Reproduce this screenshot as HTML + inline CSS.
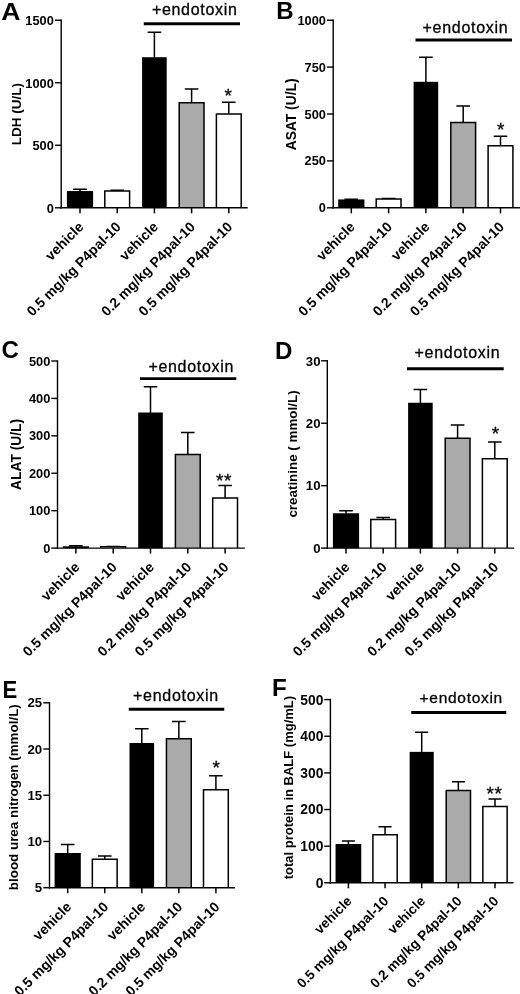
<!DOCTYPE html><html><head><meta charset="utf-8"><title>Figure</title><style>html,body{margin:0;padding:0;background:#fff}svg{display:block;will-change:transform}text{font-family:"Liberation Sans", sans-serif;fill:#000}.b{font-weight:bold}</style></head><body>
<svg width="520" height="994" viewBox="0 0 520 994">
<rect width="520" height="994" fill="#fff"/>
<g>
<text class="b" transform="translate(1.20 19.70) scale(1.080 1)" font-size="24.6">A</text>
<path d="M80.00 191.54V189.29M73.20 189.29H86.80" stroke="#000" stroke-width="1.5" fill="none"/>
<rect x="66.90" y="191.04" width="26.20" height="16.76" fill="#000"/>
<path d="M80.00 207.80V213.30" stroke="#000" stroke-width="1.5"/>
<text class="b" font-size="14.00" text-anchor="end" transform="translate(84.50 227.80) rotate(-45)">vehicle</text>
<path d="M117.20 190.92V190.29M110.40 190.29H124.00" stroke="#000" stroke-width="1.5" fill="none"/>
<path d="M104.80 207.80V190.92H129.60V207.80" fill="#fff" stroke="#000" stroke-width="1.5"/>
<path d="M117.20 207.80V213.30" stroke="#000" stroke-width="1.5"/>
<text class="b" font-size="14.00" text-anchor="end" transform="translate(121.70 227.80) rotate(-45)">0.5 mg/kg P4pal-10</text>
<path d="M154.40 57.72V32.21M147.60 32.21H161.20" stroke="#000" stroke-width="1.5" fill="none"/>
<rect x="142.10" y="57.22" width="24.60" height="150.58" fill="#000"/>
<path d="M154.40 207.80V213.30" stroke="#000" stroke-width="1.5"/>
<text class="b" font-size="14.00" text-anchor="end" transform="translate(158.90 227.80) rotate(-45)">vehicle</text>
<path d="M191.60 102.74V88.99M184.80 88.99H198.40" stroke="#000" stroke-width="1.5" fill="none"/>
<path d="M179.20 207.80V102.74H204.00V207.80" fill="#aaaaaa" stroke="#000" stroke-width="1.5"/>
<path d="M191.60 207.80V213.30" stroke="#000" stroke-width="1.5"/>
<text class="b" font-size="14.00" text-anchor="end" transform="translate(196.10 227.80) rotate(-45)">0.2 mg/kg P4pal-10</text>
<path d="M228.80 114.00V102.24M222.00 102.24H235.60" stroke="#000" stroke-width="1.5" fill="none"/>
<path d="M216.40 207.80V114.00H241.20V207.80" fill="#fff" stroke="#000" stroke-width="1.5"/>
<path d="M228.80 207.80V213.30" stroke="#000" stroke-width="1.5"/>
<text class="b" font-size="14.00" text-anchor="end" transform="translate(233.30 227.80) rotate(-45)">0.5 mg/kg P4pal-10</text>
<path d="M61.20 19.40V208.60" stroke="#000" stroke-width="1.4"/>
<path d="M60.40 207.80H247.70" stroke="#000" stroke-width="1.4"/>
<path d="M55.00 20.20H61.20" stroke="#000" stroke-width="1.4"/>
<text class="b" font-size="12.8" text-anchor="end" x="53.80" y="25.00">1500</text>
<path d="M55.00 82.73H61.20" stroke="#000" stroke-width="1.4"/>
<text class="b" font-size="12.8" text-anchor="end" x="53.80" y="87.53">1000</text>
<path d="M55.00 145.27H61.20" stroke="#000" stroke-width="1.4"/>
<text class="b" font-size="12.8" text-anchor="end" x="53.80" y="150.07">500</text>
<path d="M55.00 207.80H61.20" stroke="#000" stroke-width="1.4"/>
<text class="b" font-size="12.8" text-anchor="end" x="53.80" y="212.60">0</text>
<text class="b" font-size="13.5" text-anchor="middle" transform="translate(20.60 114.10) rotate(-90)">LDH (U/L)</text>
<text font-size="16.00" letter-spacing="0.7" stroke="#000" stroke-width="0.3" text-anchor="middle" x="194.75" y="14.50">+endotoxin</text>
<path d="M143.75 23.75H240.00" stroke="#000" stroke-width="2.8"/>
<text font-size="19" letter-spacing="0.6" stroke="#000" stroke-width="0.3" text-anchor="middle" x="228.55" y="101.70">*</text>
</g>
<g>
<text class="b" transform="translate(276.30 19.00) scale(0.980 1)" font-size="24.6">B</text>
<path d="M351.30 199.92V199.36M344.50 199.36H358.10" stroke="#000" stroke-width="1.5" fill="none"/>
<rect x="338.20" y="199.42" width="26.20" height="8.38" fill="#000"/>
<path d="M351.30 207.80V213.30" stroke="#000" stroke-width="1.5"/>
<text class="b" font-size="14.00" text-anchor="end" transform="translate(355.80 227.80) rotate(-45)">vehicle</text>
<path d="M388.60 198.98V198.61M381.80 198.61H395.40" stroke="#000" stroke-width="1.5" fill="none"/>
<path d="M376.20 207.80V198.98H401.00V207.80" fill="#fff" stroke="#000" stroke-width="1.5"/>
<path d="M388.60 207.80V213.30" stroke="#000" stroke-width="1.5"/>
<text class="b" font-size="14.00" text-anchor="end" transform="translate(393.10 227.80) rotate(-45)">0.5 mg/kg P4pal-10</text>
<path d="M425.90 82.30V57.16M419.10 57.16H432.70" stroke="#000" stroke-width="1.5" fill="none"/>
<rect x="413.60" y="81.80" width="24.60" height="126.00" fill="#000"/>
<path d="M425.90 207.80V213.30" stroke="#000" stroke-width="1.5"/>
<text class="b" font-size="14.00" text-anchor="end" transform="translate(430.40 227.80) rotate(-45)">vehicle</text>
<path d="M463.20 122.44V105.93M456.40 105.93H470.00" stroke="#000" stroke-width="1.5" fill="none"/>
<path d="M450.80 207.80V122.44H475.60V207.80" fill="#aaaaaa" stroke="#000" stroke-width="1.5"/>
<path d="M463.20 207.80V213.30" stroke="#000" stroke-width="1.5"/>
<text class="b" font-size="14.00" text-anchor="end" transform="translate(467.70 227.80) rotate(-45)">0.2 mg/kg P4pal-10</text>
<path d="M500.50 145.70V136.14M493.70 136.14H507.30" stroke="#000" stroke-width="1.5" fill="none"/>
<path d="M488.10 207.80V145.70H512.90V207.80" fill="#fff" stroke="#000" stroke-width="1.5"/>
<path d="M500.50 207.80V213.30" stroke="#000" stroke-width="1.5"/>
<text class="b" font-size="14.00" text-anchor="end" transform="translate(505.00 227.80) rotate(-45)">0.5 mg/kg P4pal-10</text>
<path d="M333.20 19.40V208.60" stroke="#000" stroke-width="1.4"/>
<path d="M332.40 207.80H520.00" stroke="#000" stroke-width="1.4"/>
<path d="M327.00 20.20H333.20" stroke="#000" stroke-width="1.4"/>
<text class="b" font-size="12.8" text-anchor="end" x="325.90" y="24.70">1000</text>
<path d="M327.00 67.10H333.20" stroke="#000" stroke-width="1.4"/>
<text class="b" font-size="12.8" text-anchor="end" x="325.90" y="71.60">750</text>
<path d="M327.00 114.00H333.20" stroke="#000" stroke-width="1.4"/>
<text class="b" font-size="12.8" text-anchor="end" x="325.90" y="118.50">500</text>
<path d="M327.00 160.90H333.20" stroke="#000" stroke-width="1.4"/>
<text class="b" font-size="12.8" text-anchor="end" x="325.90" y="165.40">250</text>
<path d="M327.00 207.80H333.20" stroke="#000" stroke-width="1.4"/>
<text class="b" font-size="12.8" text-anchor="end" x="325.90" y="212.30">0</text>
<text class="b" font-size="13.8" text-anchor="middle" transform="translate(295.50 114.40) rotate(-90)">ASAT (U/L)</text>
<text font-size="16.00" letter-spacing="0.7" stroke="#000" stroke-width="0.3" text-anchor="middle" x="465.45" y="33.25">+endotoxin</text>
<path d="M415.50 40.00H512.00" stroke="#000" stroke-width="2.8"/>
<text font-size="19" letter-spacing="0.6" stroke="#000" stroke-width="0.3" text-anchor="middle" x="501.10" y="136.20">*</text>
</g>
<g>
<text class="b" transform="translate(1.60 358.00) scale(0.980 1)" font-size="24.6">C</text>
<path d="M75.90 546.79V545.85M69.10 545.85H82.70" stroke="#000" stroke-width="1.5" fill="none"/>
<rect x="62.80" y="546.29" width="26.20" height="1.81" fill="#000"/>
<path d="M75.90 548.10V553.60" stroke="#000" stroke-width="1.5"/>
<text class="b" font-size="14.00" text-anchor="end" transform="translate(80.40 568.10) rotate(-45)">vehicle</text>
<path d="M113.20 546.79V546.42M106.40 546.42H120.00" stroke="#000" stroke-width="1.5" fill="none"/>
<path d="M100.80 548.10V546.79H125.60V548.10" fill="#fff" stroke="#000" stroke-width="1.5"/>
<path d="M113.20 548.10V553.60" stroke="#000" stroke-width="1.5"/>
<text class="b" font-size="14.00" text-anchor="end" transform="translate(117.70 568.10) rotate(-45)">0.5 mg/kg P4pal-10</text>
<path d="M150.50 413.01V386.82M143.70 386.82H157.30" stroke="#000" stroke-width="1.5" fill="none"/>
<rect x="138.20" y="412.51" width="24.60" height="135.59" fill="#000"/>
<path d="M150.50 548.10V553.60" stroke="#000" stroke-width="1.5"/>
<text class="b" font-size="14.00" text-anchor="end" transform="translate(155.00 568.10) rotate(-45)">vehicle</text>
<path d="M187.80 454.55V432.47M181.00 432.47H194.60" stroke="#000" stroke-width="1.5" fill="none"/>
<path d="M175.40 548.10V454.55H200.20V548.10" fill="#aaaaaa" stroke="#000" stroke-width="1.5"/>
<path d="M187.80 548.10V553.60" stroke="#000" stroke-width="1.5"/>
<text class="b" font-size="14.00" text-anchor="end" transform="translate(192.30 568.10) rotate(-45)">0.2 mg/kg P4pal-10</text>
<path d="M225.10 497.96V485.61M218.30 485.61H231.90" stroke="#000" stroke-width="1.5" fill="none"/>
<path d="M212.70 548.10V497.96H237.50V548.10" fill="#fff" stroke="#000" stroke-width="1.5"/>
<path d="M225.10 548.10V553.60" stroke="#000" stroke-width="1.5"/>
<text class="b" font-size="14.00" text-anchor="end" transform="translate(229.60 568.10) rotate(-45)">0.5 mg/kg P4pal-10</text>
<path d="M57.50 360.20V548.90" stroke="#000" stroke-width="1.4"/>
<path d="M56.70 548.10H244.80" stroke="#000" stroke-width="1.4"/>
<path d="M51.30 361.00H57.50" stroke="#000" stroke-width="1.4"/>
<text class="b" font-size="12.8" text-anchor="end" x="50.30" y="365.60">500</text>
<path d="M51.30 398.42H57.50" stroke="#000" stroke-width="1.4"/>
<text class="b" font-size="12.8" text-anchor="end" x="50.30" y="403.02">400</text>
<path d="M51.30 435.84H57.50" stroke="#000" stroke-width="1.4"/>
<text class="b" font-size="12.8" text-anchor="end" x="50.30" y="440.44">300</text>
<path d="M51.30 473.26H57.50" stroke="#000" stroke-width="1.4"/>
<text class="b" font-size="12.8" text-anchor="end" x="50.30" y="477.86">200</text>
<path d="M51.30 510.68H57.50" stroke="#000" stroke-width="1.4"/>
<text class="b" font-size="12.8" text-anchor="end" x="50.30" y="515.28">100</text>
<path d="M51.30 548.10H57.50" stroke="#000" stroke-width="1.4"/>
<text class="b" font-size="12.8" text-anchor="end" x="50.30" y="552.70">0</text>
<text class="b" font-size="13.8" text-anchor="middle" transform="translate(20.60 454.40) rotate(-90)">ALAT (U/L)</text>
<text font-size="16.00" letter-spacing="0.7" stroke="#000" stroke-width="0.3" text-anchor="middle" x="191.25" y="371.90">+endotoxin</text>
<path d="M140.00 378.70H236.25" stroke="#000" stroke-width="2.8"/>
<text font-size="19" letter-spacing="0.6" stroke="#000" stroke-width="0.3" text-anchor="middle" x="224.10" y="486.50">**</text>
</g>
<g>
<text class="b" transform="translate(275.00 358.50) scale(0.980 1)" font-size="24.6">D</text>
<path d="M346.00 513.76V510.64M339.20 510.64H352.80" stroke="#000" stroke-width="1.5" fill="none"/>
<rect x="332.90" y="513.26" width="26.20" height="34.84" fill="#000"/>
<path d="M346.00 548.10V553.60" stroke="#000" stroke-width="1.5"/>
<text class="b" font-size="14.00" text-anchor="end" transform="translate(350.50 568.10) rotate(-45)">vehicle</text>
<path d="M383.20 519.38V517.51M376.40 517.51H390.00" stroke="#000" stroke-width="1.5" fill="none"/>
<path d="M370.80 548.10V519.38H395.60V548.10" fill="#fff" stroke="#000" stroke-width="1.5"/>
<path d="M383.20 548.10V553.60" stroke="#000" stroke-width="1.5"/>
<text class="b" font-size="14.00" text-anchor="end" transform="translate(387.70 568.10) rotate(-45)">0.5 mg/kg P4pal-10</text>
<path d="M420.40 403.25V389.52M413.60 389.52H427.20" stroke="#000" stroke-width="1.5" fill="none"/>
<rect x="408.10" y="402.75" width="24.60" height="145.35" fill="#000"/>
<path d="M420.40 548.10V553.60" stroke="#000" stroke-width="1.5"/>
<text class="b" font-size="14.00" text-anchor="end" transform="translate(424.90 568.10) rotate(-45)">vehicle</text>
<path d="M457.60 438.22V425.11M450.80 425.11H464.40" stroke="#000" stroke-width="1.5" fill="none"/>
<path d="M445.20 548.10V438.22H470.00V548.10" fill="#aaaaaa" stroke="#000" stroke-width="1.5"/>
<path d="M457.60 548.10V553.60" stroke="#000" stroke-width="1.5"/>
<text class="b" font-size="14.00" text-anchor="end" transform="translate(462.10 568.10) rotate(-45)">0.2 mg/kg P4pal-10</text>
<path d="M494.80 458.82V441.96M488.00 441.96H501.60" stroke="#000" stroke-width="1.5" fill="none"/>
<path d="M482.40 548.10V458.82H507.20V548.10" fill="#fff" stroke="#000" stroke-width="1.5"/>
<path d="M494.80 548.10V553.60" stroke="#000" stroke-width="1.5"/>
<text class="b" font-size="14.00" text-anchor="end" transform="translate(499.30 568.10) rotate(-45)">0.5 mg/kg P4pal-10</text>
<path d="M327.30 360.00V548.90" stroke="#000" stroke-width="1.4"/>
<path d="M326.50 548.10H514.20" stroke="#000" stroke-width="1.4"/>
<path d="M321.10 360.80H327.30" stroke="#000" stroke-width="1.4"/>
<text class="b" font-size="13.2" text-anchor="end" x="320.50" y="365.60">30</text>
<path d="M321.10 423.23H327.30" stroke="#000" stroke-width="1.4"/>
<text class="b" font-size="13.2" text-anchor="end" x="320.50" y="428.03">20</text>
<path d="M321.10 485.67H327.30" stroke="#000" stroke-width="1.4"/>
<text class="b" font-size="13.2" text-anchor="end" x="320.50" y="490.47">10</text>
<path d="M321.10 548.10H327.30" stroke="#000" stroke-width="1.4"/>
<text class="b" font-size="13.2" text-anchor="end" x="320.50" y="552.90">0</text>
<text class="b" font-size="13.4" text-anchor="middle" transform="translate(296.80 454.00) rotate(-90)">creatinine ( mmol/L)</text>
<text font-size="16.00" letter-spacing="0.7" stroke="#000" stroke-width="0.3" text-anchor="middle" x="457.45" y="357.50">+endotoxin</text>
<path d="M407.00 368.75H503.75" stroke="#000" stroke-width="2.8"/>
<text font-size="19" letter-spacing="0.6" stroke="#000" stroke-width="0.3" text-anchor="middle" x="495.80" y="440.45">*</text>
</g>
<g>
<text class="b" transform="translate(2.60 697.80) scale(0.900 1)" font-size="24.6">E</text>
<path d="M67.70 853.49V844.43M60.90 844.43H74.50" stroke="#000" stroke-width="1.5" fill="none"/>
<rect x="54.60" y="852.99" width="26.20" height="34.71" fill="#000"/>
<path d="M67.70 887.70V893.20" stroke="#000" stroke-width="1.5"/>
<text class="b" font-size="14.00" text-anchor="end" transform="translate(72.20 907.70) rotate(-45)">vehicle</text>
<path d="M104.75 859.23V855.99M97.95 855.99H111.55" stroke="#000" stroke-width="1.5" fill="none"/>
<path d="M92.35 887.70V859.23H117.15V887.70" fill="#fff" stroke="#000" stroke-width="1.5"/>
<path d="M104.75 887.70V893.20" stroke="#000" stroke-width="1.5"/>
<text class="b" font-size="14.00" text-anchor="end" transform="translate(109.25 907.70) rotate(-45)">0.5 mg/kg P4pal-10</text>
<path d="M141.80 743.48V728.87M135.00 728.87H148.60" stroke="#000" stroke-width="1.5" fill="none"/>
<rect x="129.50" y="742.98" width="24.60" height="144.72" fill="#000"/>
<path d="M141.80 887.70V893.20" stroke="#000" stroke-width="1.5"/>
<text class="b" font-size="14.00" text-anchor="end" transform="translate(146.30 907.70) rotate(-45)">vehicle</text>
<path d="M178.85 738.86V721.47M172.05 721.47H185.65" stroke="#000" stroke-width="1.5" fill="none"/>
<path d="M166.45 887.70V738.86H191.25V887.70" fill="#aaaaaa" stroke="#000" stroke-width="1.5"/>
<path d="M178.85 887.70V893.20" stroke="#000" stroke-width="1.5"/>
<text class="b" font-size="14.00" text-anchor="end" transform="translate(183.35 907.70) rotate(-45)">0.2 mg/kg P4pal-10</text>
<path d="M215.90 789.70V775.84M209.10 775.84H222.70" stroke="#000" stroke-width="1.5" fill="none"/>
<path d="M203.50 887.70V789.70H228.30V887.70" fill="#fff" stroke="#000" stroke-width="1.5"/>
<path d="M215.90 887.70V893.20" stroke="#000" stroke-width="1.5"/>
<text class="b" font-size="14.00" text-anchor="end" transform="translate(220.40 907.70) rotate(-45)">0.5 mg/kg P4pal-10</text>
<path d="M49.50 702.00V888.50" stroke="#000" stroke-width="1.4"/>
<path d="M48.70 887.70H235.00" stroke="#000" stroke-width="1.4"/>
<path d="M43.30 702.80H49.50" stroke="#000" stroke-width="1.4"/>
<text class="b" font-size="13.2" text-anchor="end" x="42.10" y="707.30">25</text>
<path d="M43.30 749.02H49.50" stroke="#000" stroke-width="1.4"/>
<text class="b" font-size="13.2" text-anchor="end" x="42.10" y="753.52">20</text>
<path d="M43.30 795.25H49.50" stroke="#000" stroke-width="1.4"/>
<text class="b" font-size="13.2" text-anchor="end" x="42.10" y="799.75">15</text>
<path d="M43.30 841.48H49.50" stroke="#000" stroke-width="1.4"/>
<text class="b" font-size="13.2" text-anchor="end" x="42.10" y="845.98">10</text>
<path d="M43.30 887.70H49.50" stroke="#000" stroke-width="1.4"/>
<text class="b" font-size="13.2" text-anchor="end" x="42.10" y="892.20">5</text>
<text class="b" font-size="13.4" text-anchor="middle" transform="translate(18.20 797.20) rotate(-90)">blood urea nitrogen (mmol/L)</text>
<text font-size="16.00" letter-spacing="0.7" stroke="#000" stroke-width="0.3" text-anchor="middle" x="175.95" y="701.25">+endotoxin</text>
<path d="M128.75 709.25H224.25" stroke="#000" stroke-width="2.8"/>
<text font-size="19" letter-spacing="0.6" stroke="#000" stroke-width="0.3" text-anchor="middle" x="216.55" y="774.20">*</text>
</g>
<g>
<text class="b" transform="translate(272.00 696.10) scale(0.980 1)" font-size="24.6">F</text>
<path d="M348.40 844.47V841.03M341.90 841.03H354.90" stroke="#000" stroke-width="1.5" fill="none"/>
<rect x="335.55" y="843.97" width="25.70" height="38.83" fill="#000"/>
<path d="M348.40 882.80V888.30" stroke="#000" stroke-width="1.5"/>
<text class="b" font-size="13.65" text-anchor="end" transform="translate(352.70 902.00) rotate(-45)">vehicle</text>
<path d="M385.05 834.80V826.74M378.55 826.74H391.55" stroke="#000" stroke-width="1.5" fill="none"/>
<path d="M372.90 882.80V834.80H397.20V882.80" fill="#fff" stroke="#000" stroke-width="1.5"/>
<path d="M385.05 882.80V888.30" stroke="#000" stroke-width="1.5"/>
<text class="b" font-size="13.65" text-anchor="end" transform="translate(389.35 902.00) rotate(-45)">0.5 mg/kg P4pal-10</text>
<path d="M421.70 752.36V732.21M415.20 732.21H428.20" stroke="#000" stroke-width="1.5" fill="none"/>
<rect x="409.65" y="751.86" width="24.10" height="130.94" fill="#000"/>
<path d="M421.70 882.80V888.30" stroke="#000" stroke-width="1.5"/>
<text class="b" font-size="13.65" text-anchor="end" transform="translate(426.00 902.00) rotate(-45)">vehicle</text>
<path d="M458.35 790.47V781.67M451.85 781.67H464.85" stroke="#000" stroke-width="1.5" fill="none"/>
<path d="M446.20 882.80V790.47H470.50V882.80" fill="#aaaaaa" stroke="#000" stroke-width="1.5"/>
<path d="M458.35 882.80V888.30" stroke="#000" stroke-width="1.5"/>
<text class="b" font-size="13.65" text-anchor="end" transform="translate(462.65 902.00) rotate(-45)">0.2 mg/kg P4pal-10</text>
<path d="M495.00 806.59V798.89M488.50 798.89H501.50" stroke="#000" stroke-width="1.5" fill="none"/>
<path d="M482.85 882.80V806.59H507.15V882.80" fill="#fff" stroke="#000" stroke-width="1.5"/>
<path d="M495.00 882.80V888.30" stroke="#000" stroke-width="1.5"/>
<text class="b" font-size="13.65" text-anchor="end" transform="translate(499.30 902.00) rotate(-45)">0.5 mg/kg P4pal-10</text>
<path d="M330.40 698.80V883.60" stroke="#000" stroke-width="1.4"/>
<path d="M329.60 882.80H513.50" stroke="#000" stroke-width="1.4"/>
<path d="M324.20 699.60H330.40" stroke="#000" stroke-width="1.4"/>
<text class="b" font-size="13.8" text-anchor="end" x="323.40" y="704.55">500</text>
<path d="M324.20 736.24H330.40" stroke="#000" stroke-width="1.4"/>
<text class="b" font-size="13.8" text-anchor="end" x="323.40" y="741.19">400</text>
<path d="M324.20 772.88H330.40" stroke="#000" stroke-width="1.4"/>
<text class="b" font-size="13.8" text-anchor="end" x="323.40" y="777.83">300</text>
<path d="M324.20 809.52H330.40" stroke="#000" stroke-width="1.4"/>
<text class="b" font-size="13.8" text-anchor="end" x="323.40" y="814.47">200</text>
<path d="M324.20 846.16H330.40" stroke="#000" stroke-width="1.4"/>
<text class="b" font-size="13.8" text-anchor="end" x="323.40" y="851.11">100</text>
<path d="M324.20 882.80H330.40" stroke="#000" stroke-width="1.4"/>
<text class="b" font-size="13.8" text-anchor="end" x="323.40" y="887.75">0</text>
<text class="b" font-size="13.0" text-anchor="middle" transform="translate(293.20 787.60) rotate(-90)">total protein in BALF (mg/mL)</text>
<text font-size="15.50" letter-spacing="0.7" stroke="#000" stroke-width="0.3" text-anchor="middle" x="461.25" y="703.00">+endotoxin</text>
<path d="M411.25 712.50H506.25" stroke="#000" stroke-width="2.8"/>
<text font-size="19" letter-spacing="0.6" stroke="#000" stroke-width="0.3" text-anchor="middle" x="494.50" y="800.20">**</text>
</g>
</svg></body></html>
